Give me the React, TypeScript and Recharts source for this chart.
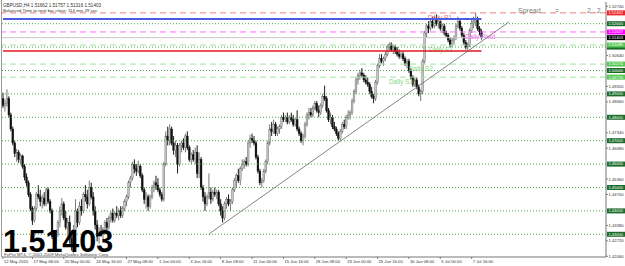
import React from "react";
import { ComposedChart, Bar, XAxis, YAxis, ReferenceLine } from "recharts";

// GBPUSD H4 candles, prices in pips (1.4880 -> 14880)
const opens = [
  14880, 14850, 14860, 14880, 14810, 14750, 14690, 14645, 14650, 14620,
  14635, 14590, 14545, 14520, 14470, 14410, 14360, 14410, 14470, 14460,
  14440, 14455, 14430, 14490, 14440, 14400, 14290, 14270, 14300, 14350,
  14400, 14430, 14370, 14330, 14350, 14280, 14250, 14320, 14400, 14350,
  14420, 14400, 14470, 14460, 14430, 14500, 14460, 14400, 14340, 14290,
  14310, 14300, 14320, 14350, 14330, 14370, 14390, 14360, 14390, 14380,
  14400, 14380, 14410, 14440, 14460, 14520, 14540, 14600, 14580, 14570,
  14590, 14550, 14490, 14450, 14460, 14420, 14460, 14500, 14520, 14510,
  14490, 14470, 14450, 14600, 14720, 14700, 14750, 14690, 14660, 14680,
  14600, 14680, 14690, 14670, 14720, 14670, 14620, 14640, 14620, 14650,
  14560, 14620, 14500, 14460, 14430, 14460, 14480, 14450, 14480, 14470,
  14480, 14430, 14400, 14370, 14430, 14450, 14430, 14440, 14490, 14530,
  14550, 14530, 14580, 14600, 14610, 14600, 14690, 14710, 14700, 14690,
  14630, 14570, 14520, 14530, 14570, 14610, 14690, 14750, 14740, 14770,
  14730, 14750, 14760, 14800, 14790, 14800, 14780, 14800, 14790, 14770,
  14790, 14750, 14730, 14700, 14720, 14770, 14810, 14820, 14810, 14840,
  14860, 14830, 14820, 14850, 14890, 14880, 14830, 14790, 14800, 14760,
  14750, 14730, 14710, 14740, 14770, 14760, 14800, 14810, 14820, 14870,
  14910, 14960, 14980, 14990, 14980, 14960, 14950, 14940, 14910, 14890,
  14880, 14950, 15020, 15050, 15040, 15050, 15070, 15100, 15110, 15090,
  15100, 15080, 15070, 15060, 15070, 15050, 15030, 15040, 15000, 14970,
  14940, 14960, 14930, 14900, 14910, 15040, 15160, 15190, 15180, 15210,
  15190, 15220, 15200, 15210, 15180, 15190, 15160, 15150, 15130, 15110,
  15130, 15140, 15190, 15210, 15180, 15150, 15120, 15100, 15110, 15170,
  15200, 15210, 15220, 15180, 15166,
];
const highs = [
  14905, 14875, 14920, 14890, 14820, 14760, 14700, 14665, 14660, 14645,
  14640, 14600, 14560, 14530, 14480, 14420, 14420, 14480, 14510, 14490,
  14470, 14480, 14500, 14500, 14450, 14410, 14300, 14320, 14360, 14420,
  14455, 14440, 14400, 14370, 14380, 14300, 14340, 14450, 14410, 14440,
  14450, 14480, 14510, 14490, 14530, 14520, 14480, 14420, 14360, 14330,
  14340, 14330, 14360, 14370, 14380, 14400, 14410, 14400, 14420, 14410,
  14420, 14420, 14450, 14470, 14530, 14550, 14610, 14620, 14600, 14615,
  14600, 14560, 14500, 14480, 14470, 14470, 14510, 14530, 14550, 14540,
  14500, 14480, 14610, 14740, 14760, 14770, 14760, 14720, 14700, 14690,
  14690, 14700, 14710, 14730, 14740, 14680, 14650, 14660, 14670, 14680,
  14650, 14630, 14510, 14480, 14470, 14560, 14500, 14490, 14500, 14490,
  14490, 14450, 14420, 14440, 14460, 14470, 14450, 14500, 14540, 14560,
  14580, 14590, 14620, 14620, 14630, 14700, 14725, 14730, 14720, 14700,
  14640, 14580, 14540, 14580, 14620, 14700, 14770, 14780, 14790, 14780,
  14760, 14770, 14810, 14820, 14810, 14820, 14810, 14820, 14810, 14800,
  14830, 14760, 14740, 14730, 14780, 14820, 14840, 14840, 14850, 14870,
  14870, 14850, 14860, 14900, 14935, 14890, 14840, 14820, 14810, 14780,
  14760, 14740, 14750, 14780, 14790, 14810, 14830, 14830, 14880, 14920,
  14970, 14990, 15000, 15010, 14990, 14980, 14970, 14950, 14930, 14900,
  14960, 15030, 15070, 15070, 15060, 15080, 15110, 15120, 15120, 15110,
  15110, 15100, 15090, 15080, 15080, 15060, 15050, 15050, 15010, 14980,
  14970, 14970, 14940, 14920, 15050, 15170, 15200, 15210, 15220, 15230,
  15235, 15240, 15230, 15220, 15200, 15200, 15170, 15160, 15140, 15140,
  15150, 15200, 15230, 15220, 15190, 15160, 15130, 15120, 15180, 15220,
  15230, 15246, 15230, 15190, 15176,
];
const lows = [
  14840, 14825, 14845, 14800, 14740, 14680, 14630, 14610, 14605, 14600,
  14580, 14530, 14505, 14460, 14400, 14340, 14350, 14400, 14450, 14420,
  14410, 14420, 14420, 14430, 14390, 14280, 14250, 14260, 14290, 14330,
  14380, 14360, 14320, 14290, 14260, 14230, 14218, 14300, 14330, 14340,
  14380, 14390, 14440, 14410, 14420, 14450, 14380, 14320, 14270, 14260,
  14290, 14280, 14300, 14310, 14320, 14350, 14350, 14350, 14370, 14360,
  14370, 14370, 14400, 14420, 14450, 14500, 14530, 14560, 14550, 14560,
  14540, 14480, 14430, 14410, 14400, 14410, 14450, 14480, 14490, 14480,
  14460, 14440, 14440, 14590, 14680, 14680, 14680, 14640, 14630, 14560,
  14590, 14650, 14660, 14650, 14660, 14610, 14600, 14610, 14600, 14540,
  14540, 14490, 14440, 14400, 14420, 14450, 14430, 14440, 14460, 14450,
  14420, 14380, 14350, 14360, 14410, 14420, 14400, 14430, 14480, 14500,
  14520, 14510, 14570, 14580, 14590, 14590, 14670, 14690, 14680, 14620,
  14560, 14510, 14500, 14520, 14560, 14600, 14680, 14720, 14730, 14720,
  14720, 14730, 14750, 14780, 14780, 14770, 14770, 14780, 14760, 14760,
  14740, 14720, 14690, 14680, 14710, 14760, 14790, 14800, 14800, 14830,
  14820, 14800, 14810, 14840, 14870, 14820, 14780, 14770, 14750, 14740,
  14720, 14700, 14700, 14730, 14750, 14750, 14790, 14790, 14810, 14860,
  14900, 14940, 14960, 14970, 14950, 14940, 14930, 14900, 14880, 14860,
  14870, 14940, 15010, 15030, 15020, 15040, 15060, 15080, 15080, 15070,
  15070, 15060, 15050, 15050, 15040, 15020, 15010, 14990, 14960, 14930,
  14930, 14920, 14890, 14870, 14900, 15030, 15140, 15160, 15170, 15180,
  15180, 15190, 15180, 15170, 15160, 15150, 15140, 15120, 15100, 15100,
  15110, 15130, 15180, 15170, 15140, 15110, 15090, 15085, 15100, 15160,
  15180, 15190, 15170, 15150, 15132,
];
const closes = [
  14850, 14860, 14880, 14810, 14750, 14690, 14645, 14650, 14620, 14635,
  14590, 14545, 14520, 14470, 14410, 14360, 14410, 14470, 14460, 14440,
  14455, 14430, 14490, 14440, 14400, 14290, 14270, 14300, 14350, 14400,
  14430, 14370, 14330, 14350, 14280, 14250, 14320, 14400, 14350, 14420,
  14400, 14470, 14460, 14430, 14500, 14460, 14400, 14340, 14290, 14310,
  14300, 14320, 14350, 14330, 14370, 14390, 14360, 14390, 14380, 14400,
  14380, 14410, 14440, 14460, 14520, 14540, 14600, 14580, 14570, 14590,
  14550, 14490, 14450, 14460, 14420, 14460, 14500, 14520, 14510, 14490,
  14470, 14450, 14600, 14720, 14700, 14750, 14690, 14660, 14680, 14600,
  14680, 14690, 14670, 14720, 14670, 14620, 14640, 14620, 14650, 14560,
  14620, 14500, 14460, 14430, 14460, 14480, 14450, 14480, 14470, 14480,
  14430, 14400, 14370, 14430, 14450, 14430, 14440, 14490, 14530, 14550,
  14530, 14580, 14600, 14610, 14600, 14690, 14710, 14700, 14690, 14630,
  14570, 14520, 14530, 14570, 14610, 14690, 14750, 14740, 14770, 14730,
  14750, 14760, 14800, 14790, 14800, 14780, 14800, 14790, 14770, 14790,
  14750, 14730, 14700, 14720, 14770, 14810, 14820, 14810, 14840, 14860,
  14830, 14820, 14850, 14890, 14880, 14830, 14790, 14800, 14760, 14750,
  14730, 14710, 14740, 14770, 14760, 14800, 14810, 14820, 14870, 14910,
  14960, 14980, 14990, 14980, 14960, 14950, 14940, 14910, 14890, 14880,
  14950, 15020, 15050, 15040, 15050, 15070, 15100, 15110, 15090, 15100,
  15080, 15070, 15060, 15070, 15050, 15030, 15040, 15000, 14970, 14940,
  14960, 14930, 14900, 14910, 15040, 15160, 15190, 15180, 15210, 15190,
  15220, 15200, 15210, 15180, 15190, 15160, 15150, 15130, 15110, 15130,
  15140, 15190, 15210, 15180, 15150, 15120, 15100, 15110, 15170, 15200,
  15210, 15220, 15180, 15166, 15140,
];

// bar slots on the time axis (empty slots = chart shift on the right)
const SLOTS = 308;

const timeTickIdx = [0, 15, 31, 47, 63, 79, 95, 111, 127, 143, 159, 175, 191, 207, 223, 239];
const timeTickLabels = [
  "12 May 2010", "17 May 08:00", "20 May 00:00", "24 May 16:00", "27 May 08:00",
  "1 Jun 00:00", "3 Jun 16:00", "8 Jun 08:00", "11 Jun 00:00", "15 Jun 16:00",
  "18 Jun 08:00", "23 Jun 00:00", "25 Jun 16:00", "30 Jun 08:00", "5 Jul 00:00", "7 Jul 16:00",
];

// scale labels that are not hidden under the price badges
const priceTicks = [
  1.4206, 1.4272, 1.4338, 1.447, 1.4536, 1.4668, 1.4734,
  1.4866, 1.4932, 1.5064, 1.5274,
];
const roundLevels = [1.43, 1.44, 1.45, 1.46, 1.47, 1.48, 1.49, 1.5, 1.51, 1.52];

const pivotNames = ["Daily S3", "Daily S2", "Daily S1", "Daily Pivot", "Daily R1"];
const pivotValues = [1.49716, 1.50274, 1.51089, 1.51647, 1.52462];

const prevHigh = 1.52205;
const prevLow = 1.50832;
const bid = 1.51403;
const lastBar = { symbol: "GBPUSD,H4", o: "1.51662", h: "1.51757", l: "1.51316", c: "1.51403" };
const trendline = [
  { x: 105, y: 1.4301 },
  { x: 258, y: 1.5207 },
];

const data = Array.from({ length: SLOTS }, (_, i) =>
  i < opens.length
    ? {
        idx: i,
        open: opens[i] / 1e4,
        high: highs[i] / 1e4,
        low: lows[i] / 1e4,
        close: closes[i] / 1e4,
        range: [lows[i] / 1e4, highs[i] / 1e4],
      }
    : { idx: i }
);

const FONT = "'Liberation Sans', Arial, sans-serif";

const Candle = (props: any) => {
  const { x, y, width, height } = props;
  const p = props.payload ?? props;
  if (p == null || p.high == null || !isFinite(y) || !isFinite(height)) return <g />;
  const top = Math.min(y, y + height);
  const h = Math.abs(height);
  const span = p.high - p.low || 1e-9;
  const toY = (v: number) => top + ((p.high - v) / span) * h;
  const cx = x + width / 2;
  const b1 = toY(Math.max(p.open, p.close));
  const b2 = toY(Math.min(p.open, p.close));
  const up = p.close >= p.open;
  return (
    <g>
      <line x1={cx} x2={cx} y1={top} y2={top + h} stroke={up ? "#777" : "#1a1a1a"} strokeWidth={1} />
      <rect
        x={cx - 0.9}
        y={b1}
        width={1.8}
        height={Math.max(b2 - b1, 0.8)}
        fill={up ? "#c4c4c4" : "#111"}
        stroke={up ? "#6a6a6a" : "#111"}
        strokeWidth={0.4}
      />
    </g>
  );
};

const XTick = (props: any) => {
  const { x, y, payload } = props;
  const k = timeTickIdx.indexOf(payload.value);
  return (
    <g>
      <line x1={x} x2={x} y1={y} y2={y + 2} stroke="#666" strokeWidth={0.8} />
      <text x={x + 1} y={y + 6.3} fontSize={4.2} fill="#333" fontFamily={FONT}>
        {k >= 0 ? timeTickLabels[k] : ""}
      </text>
    </g>
  );
};

const YTick = (props: any) => {
  const { x, y, payload } = props;
  return (
    <g>
      <line x1={x} x2={x + 2} y1={y} y2={y} stroke="#666" strokeWidth={0.8} />
      <text x={x + 2.5} y={y + 1.5} fontSize={4.2} fill="#333" fontFamily={FONT}>
        {Number(payload.value).toFixed(5)}
      </text>
    </g>
  );
};

const badge = (color: string, value: number, showText = true) => (props: any) => {
  const vb = props.viewBox;
  if (!vb) return null;
  const bx = 607;
  return (
    <g>
      <rect x={bx} y={vb.y - 2.5} width={20} height={5} fill={color} />
      {showText && (
        <text x={bx + 1.5} y={vb.y + 1.4} fontSize={4} fill="#fff" fontFamily={FONT}>
          {value.toFixed(5)}
        </text>
      )}
    </g>
  );
};

const pivotStyle = [
  { line: "#9fe49f", badge: "#55c855", text: "#86d886", lx: 389 },
  { line: "#9fe49f", badge: "#55c855", text: "#86d886", lx: 409 },
  { line: "#9fe49f", badge: "#55c855", text: "#86d886", lx: 429 },
  { line: "#ff6cff", badge: "#ff00ff", text: "#ee6cee", lx: 465 },
  { line: "#f07c7c", badge: "#e8262b", text: "#f07878", lx: 428 },
];

const pivotLabel = (k: number) => (props: any) => {
  const vb = props.viewBox;
  if (!vb) return null;
  const st = pivotStyle[k];
  return (
    <g>
      <text x={st.lx} y={vb.y + 6.8} fontSize={6.4} fill={st.text} fontFamily={FONT}>
        {pivotNames[k]}
      </text>
      {badge(st.badge, pivotValues[k])(props)}
    </g>
  );
};

export default function App() {
  return (
    <div style={{ position: "absolute", left: 0, top: 0, width: 625, height: 266, background: "#fff" }}>
      <ComposedChart
        width={625}
        height={266}
        data={data}
        margin={{ top: 2, right: 0, bottom: 0, left: 2 }}
        barCategoryGap={0}
        barGap={0}
      >
        <XAxis
          dataKey="idx"
          type="category"
          ticks={timeTickIdx}
          interval={0}
          tick={<XTick />}
          tickLine={false}
          tickSize={0}
          tickMargin={0}
          axisLine={{ stroke: "#777" }}
          height={9}
        />
        <YAxis
          orientation="right"
          type="number"
          domain={[1.4203, 1.52927]}
          allowDataOverflow
          ticks={priceTicks}
          interval={0}
          tick={<YTick />}
          tickLine={false}
          tickSize={0}
          tickMargin={0}
          axisLine={{ stroke: "#777" }}
          width={19}
        />
        {roundLevels.map((v) => (
          <ReferenceLine
            key={`g${v}`}
            y={v}
            stroke="#3f9a3f"
            strokeDasharray="1 2"
            strokeWidth={0.9}
            label={badge("#1d6b2b", v, Math.abs(v - pivotValues[2]) > 0.004)}
          />
        ))}
        <Bar dataKey="range" shape={<Candle />} isAnimationActive={false} />
        <ReferenceLine y={bid} stroke="#c6c6c6" strokeWidth={1} label={badge("#000", bid)} />
        {pivotValues.map((v, k) => (
          <ReferenceLine
            key={`p${k}`}
            y={v}
            stroke={pivotStyle[k].line}
            strokeDasharray="6 4"
            strokeWidth={1}
            label={pivotLabel(k)}
          />
        ))}
        <ReferenceLine
          segment={[
            { x: 0, y: prevHigh },
            { x: opens.length - 1, y: prevHigh },
          ]}
          stroke="#4b5de4"
          strokeWidth={2}
        />
        <ReferenceLine
          segment={[
            { x: 0, y: prevLow },
            { x: opens.length - 1, y: prevLow },
          ]}
          stroke="#e0191f"
          strokeWidth={1.4}
        />
        <ReferenceLine segment={trendline} stroke="#666" strokeWidth={0.8} />
      </ComposedChart>

      <svg
        width={625}
        height={266}
        style={{ position: "absolute", left: 0, top: 0, pointerEvents: "none" }}
      >
        <line x1={1.5} x2={1.5} y1={0} y2={257} stroke="#999" strokeWidth={1} />
        <text x={3} y={6.5} fontSize={4.6} fill="#333" fontFamily={FONT}>
          {`${lastBar.symbol}  ${lastBar.o} ${lastBar.h} ${lastBar.l} ${lastBar.c}`}
        </text>
        <text x={3} y={11.6} fontSize={4.4} fill="#333" fontFamily={FONT}>
          Balanced Time to next bar close: 114 min 29 sec
        </text>
        <text x={518} y={13} fontSize={7} fill="#808080" fontFamily={FONT}>Spread</text>
        <text x={555} y={13} fontSize={7} fill="#808080" fontFamily={FONT}>=</text>
        <text x={587} y={13} fontSize={7} fill="#808080" fontFamily={FONT} letterSpacing={2}>2.2</text>
        <text x={3} y={251.5} fontSize={30.5} fontWeight={700} fill="#000" fontFamily={FONT}>
          {lastBar.c}
        </text>
        <text x={4} y={256.2} fontSize={4.4} fill="#444" fontFamily={FONT}>
          FxPro MT4, © 2001-2009 MetaQuotes Software Corp.
        </text>
      </svg>
    </div>
  );
}
